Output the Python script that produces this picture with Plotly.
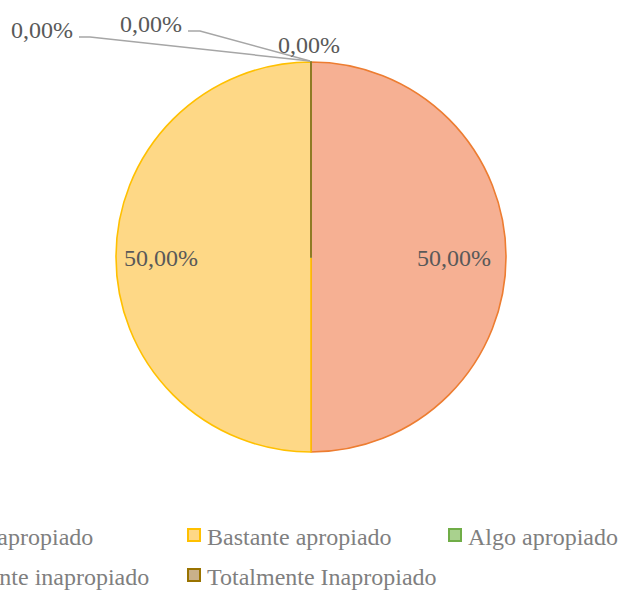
import plotly.graph_objects as go

W, H = 619, 590

categories = ["Muy apropiado", "Bastante apropiado", "Algo apropiado",
              "Bastante inapropiado", "Totalmente Inapropiado"]
values = [50, 50, 0, 0, 0]
fill_colors = ["#F6B093", "#FED886", "#A9D18E", "#9DC3E6", "#C9B08A"]
line_colors = ["#ED7D31", "#FFC000", "#70AD47", "#5B9BD5", "#997300"]

total = sum(values)
pct_text = [f"{v / total * 100:.2f}%".replace(".", ",") for v in values]


def px(x):
    return x / W


def py(y):
    return 1 - y / H


cx, cy, r = 311, 257, 195

fig = go.Figure(go.Pie(
    labels=categories,
    values=values,
    sort=False,
    direction="clockwise",
    rotation=0,
    textinfo="none",
    hoverinfo="label+percent",
    marker=dict(colors=fill_colors, line=dict(color=line_colors, width=1.6)),
    domain=dict(x=[px(cx - r), px(cx + r)], y=[py(cy + r), py(cy - r)]),
    showlegend=False,
))

label_font = dict(family="Liberation Serif, Times New Roman, serif", size=24, color="#595959")
label_pos = [(454, 258), (161, 258), (309, 45), (151, 24), (42, 30)]
annotations = []
for t, (lx, ly) in zip(pct_text, label_pos):
    annotations.append(dict(x=px(lx), y=py(ly), xref="paper", yref="paper", text=t,
                            showarrow=False, xanchor="center", yanchor="middle",
                            font=label_font))

shapes = []
# leader lines for the zero slices
for pts in [[(79, 37), (90, 37), (310, 61)], [(188, 31), (200, 31), (310, 61)]]:
    path = "M " + " L ".join(f"{px(a)},{py(b)}" for a, b in pts)
    shapes.append(dict(type="path", path=path, xref="paper", yref="paper",
                       line=dict(color="#A6A6A6", width=1.5)))

# legend (two rows, three columns, partly cut on the left)
legend_font = dict(family="Liberation Serif, Times New Roman, serif", size=24, color="#7F7F7F")
col_x = [-73, 188, 449]
row_y = [535, 575]
for i, name in enumerate(categories):
    row, col = divmod(i, 3)
    ix, iy = col_x[col], row_y[row]
    shapes.append(dict(type="rect", xref="paper", yref="paper",
                       x0=px(ix), x1=px(ix + 12), y0=py(iy - 6), y1=py(iy + 6),
                       fillcolor=fill_colors[i], line=dict(color=line_colors[i], width=2)))
    annotations.append(dict(x=px(ix + 17), y=py(iy + 2), xref="paper", yref="paper",
                            text=name, showarrow=False, xanchor="left", yanchor="middle",
                            font=legend_font))

fig.update_layout(
    width=W, height=H,
    margin=dict(l=0, r=0, t=0, b=0, autoexpand=False),
    paper_bgcolor="white", plot_bgcolor="white",
    annotations=annotations, shapes=shapes,
)

fig.write_html("out.html", config={"displayModeBar": False},
               post_script="document.body.style.margin='0px';document.body.style.overflow='hidden';")
